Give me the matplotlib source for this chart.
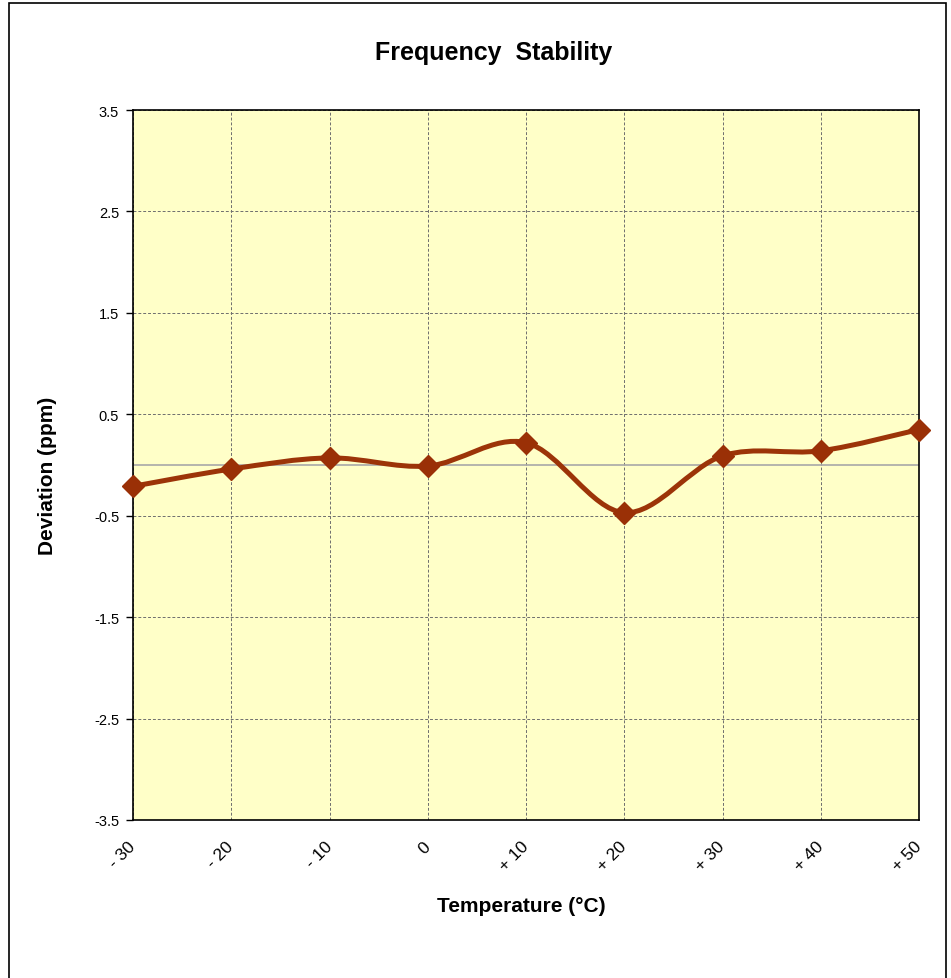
import matplotlib.pyplot as plt
import numpy as np
from matplotlib.path import Path
from matplotlib.patches import PathPatch, Rectangle

plt.rcParams["font.family"] = ["Liberation Sans", "DejaVu Sans"]

temps = [-30, -20, -10, 0, 10, 20, 30, 40, 50]
temp_labels = ["- 30", "- 20", "- 10", "0", "+ 10", "+ 20", "+ 30", "+ 40", "+ 50"]
deviation = [-0.21, -0.04, 0.07, -0.01, 0.22, -0.47, 0.09, 0.14, 0.35]
y_ticks = [-3.5, -2.5, -1.5, -0.5, 0.5, 1.5, 2.5, 3.5]

line_col = "#9c3408"

fig = plt.figure(figsize=(9.51, 9.79), dpi=100)
ax = fig.add_axes([0.1399, 0.1614, 0.8265, 0.7252])
ax.set_facecolor("#ffffc8")

# smoothed line like the spreadsheet one: cubic bezier segments through the points
x = np.array(temps, dtype=float)
y = np.array(deviation)
verts = [(x[0], y[0])]
codes = [Path.MOVETO]
for i in range(len(x) - 1):
    x0, y0 = (x[i - 1], y[i - 1]) if i > 0 else (x[i], y[i])
    x3, y3 = (x[i + 2], y[i + 2]) if i + 2 < len(x) else (x[i + 1], y[i + 1])
    c1 = (x[i] + (x[i + 1] - x0) / 6, y[i] + (y[i + 1] - y0) / 6)
    c2 = (x[i + 1] - (x3 - x[i]) / 6, y[i + 1] - (y3 - y[i]) / 6)
    verts += [c1, c2, (x[i + 1], y[i + 1])]
    codes += [Path.CURVE4] * 3
ax.add_patch(PathPatch(Path(verts, codes), facecolor="none", edgecolor=line_col,
                       lw=3.6, zorder=3, clip_on=False))
ax.plot(temps, deviation, linestyle="none", marker="D", markersize=11,
        color="#9a3006", zorder=4, clip_on=False)

ax.axhline(0, color="#a8a8a8", lw=1.2, zorder=2)
ax.set_xlim(-30, 50)
ax.set_ylim(-3.5, 3.5)
ax.set_yticks(y_ticks)
ax.set_yticklabels([f"{v:.1f}" for v in y_ticks], fontsize=10.5)
ax.set_xticks(temps)
ax.set_xticklabels(temp_labels, fontsize=12.5, rotation=45, ha="right",
                   va="center", rotation_mode="anchor")
ax.tick_params(axis="x", length=0, pad=17)
ax.tick_params(axis="y", length=5, width=1, direction="out", pad=5)
ax.grid(True, color="#6e6e6e", linestyle=(0, (3, 2)), lw=0.7, zorder=1)
for s in ax.spines.values():
    s.set_color("black")
    s.set_linewidth(1.2)

fig.text(0.519, 0.946, "Frequency  Stability", fontsize=18, fontweight="bold",
         ha="center", va="center")
fig.text(0.548, 1 - 907 / 979, "Temperature (°C)", fontsize=15, fontweight="bold",
         ha="center", va="center")
fig.text(0.05, 1 - 476 / 979, "Deviation (ppm)", fontsize=15, fontweight="bold",
         ha="center", va="center", rotation=90)

fig.patches.append(Rectangle((9 / 951, -0.01), 937 / 951, 1 - 4 / 979 + 0.01,
                             transform=fig.transFigure, fill=False,
                             edgecolor="black", lw=1.2))

fig.savefig("out.png", dpi=100)
